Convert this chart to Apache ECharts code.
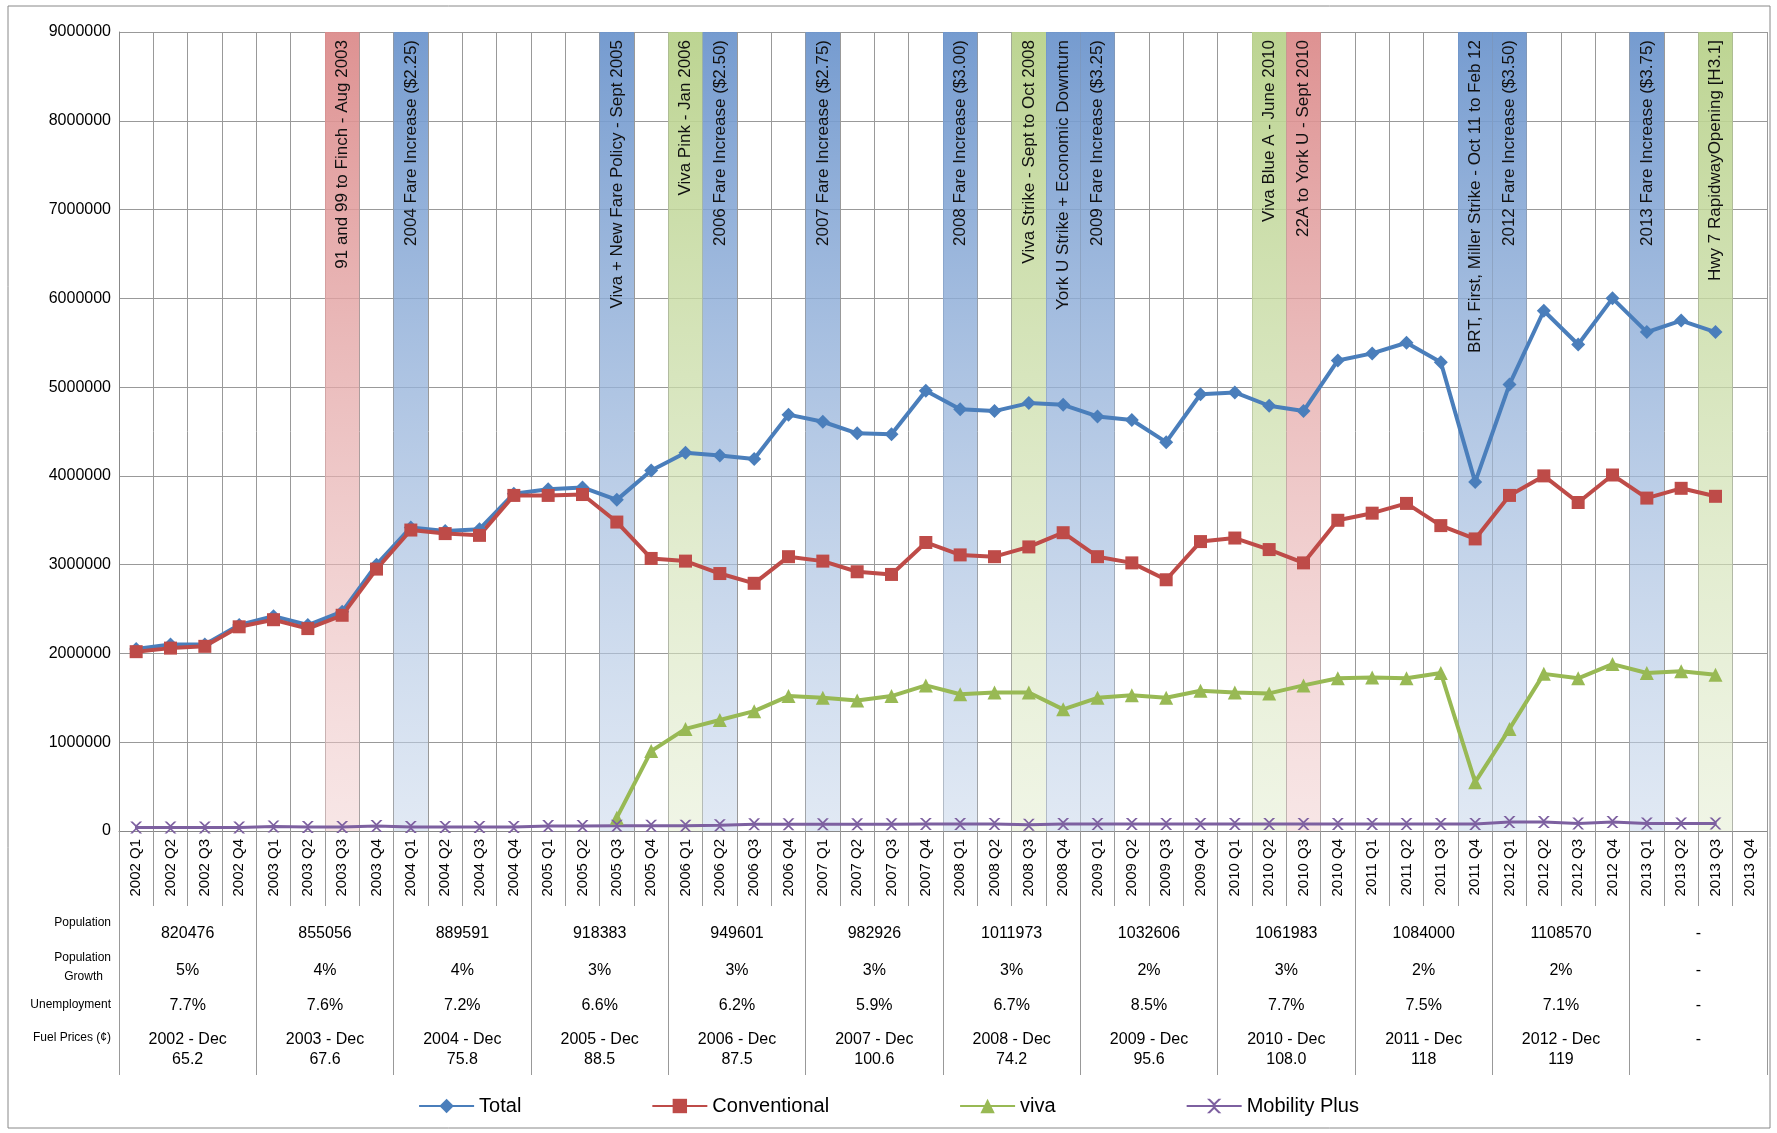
<!DOCTYPE html>
<html><head><meta charset="utf-8">
<script src="https://cdn.jsdelivr.net/npm/echarts@6/dist/echarts.min.js"></script>
<style>html,body{margin:0;padding:0;background:#fff}#c{width:1777px;height:1133px}</style>
</head><body><div id="c"></div>
<script>
const years = ['2002','2003','2004','2005','2006','2007','2008','2009','2010','2011','2012','2013'];
const quarters = [];
years.forEach(y => ['Q1','Q2','Q3','Q4'].forEach(q => quarters.push(y + ' ' + q)));

const total = [2050000,2100000,2100000,2320000,2420000,2320000,2470000,3000000,3420000,3380000,3400000,3800000,
3850000,3870000,3730000,4060000,4260000,4230000,4190000,4690000,4610000,4480000,4470000,4960000,
4750000,4730000,4820000,4800000,4670000,4630000,4380000,4920000,4940000,4790000,4730000,5300000,
5380000,5500000,5280000,3930000,5030000,5860000,5480000,6000000,5620000,5750000,5620000];
const conventional = [2020000,2060000,2080000,2300000,2380000,2280000,2430000,2950000,3390000,3350000,3330000,3780000,
3780000,3790000,3480000,3070000,3040000,2900000,2790000,3090000,3040000,2920000,2890000,3250000,
3110000,3090000,3200000,3360000,3090000,3020000,2830000,3260000,3300000,3170000,3020000,3500000,
3580000,3690000,3440000,3290000,3780000,4000000,3700000,4010000,3750000,3860000,3770000];
const viva = ['-','-','-','-','-','-','-','-','-','-','-','-','-','-',150000,900000,
1150000,1250000,1350000,1520000,1500000,1470000,1520000,1640000,1540000,1560000,1560000,1370000,
1500000,1530000,1500000,1580000,1560000,1550000,1640000,1720000,1730000,1720000,1780000,550000,
1150000,1770000,1720000,1880000,1780000,1800000,1760000];
const mobility = [40000,40000,40000,40000,50000,45000,45000,55000,45000,45000,45000,45000,
55000,55000,60000,60000,60000,65000,75000,75000,75000,75000,75000,80000,
80000,80000,70000,80000,80000,80000,80000,80000,80000,80000,80000,80000,
80000,80000,80000,80000,100000,100000,85000,100000,85000,85000,85000];

const bands = [
 ['2003 Q3','red','91 and 99 to Finch - Aug 2003'],
 ['2004 Q1','blue','2004 Fare Increase ($2.25)'],
 ['2005 Q3','blue','Viva + New Fare Policy - Sept 2005'],
 ['2006 Q1','green','Viva Pink - Jan 2006'],
 ['2006 Q2','blue','2006 Fare Increase ($2.50)'],
 ['2007 Q1','blue','2007 Fare Increase ($2.75)'],
 ['2008 Q1','blue','2008 Fare Increase ($3.00)'],
 ['2008 Q3','green','Viva Strike - Sept to Oct 2008'],
 ['2008 Q4','blue','York U Strike + Economic Downturn'],
 ['2009 Q1','blue','2009 Fare Increase ($3.25)'],
 ['2010 Q2','green','Viva Blue A - June 2010'],
 ['2010 Q3','red','22A to York U - Sept 2010'],
 ['2011 Q4','blue','BRT, First, Miller Strike - Oct 11 to Feb 12'],
 ['2012 Q1','blue','2012 Fare Increase ($3.50)'],
 ['2013 Q1','blue','2013 Fare Increase ($3.75)'],
 ['2013 Q3','green','Hwy 7 RapidwayOpening [H3.1]']
];

const population = ['820476','855056','889591','918383','949601','982926','1011973','1032606','1061983','1084000','1108570','-'];
const popGrowth = ['5%','4%','4%','3%','3%','3%','3%','2%','3%','2%','2%','-'];
const unemployment = ['7.7%','7.6%','7.2%','6.6%','6.2%','5.9%','6.7%','8.5%','7.7%','7.5%','7.1%','-'];
const fuelPeriod = ['2002 - Dec','2003 - Dec','2004 - Dec','2005 - Dec','2006 - Dec','2007 - Dec','2008 - Dec','2009 - Dec','2010 - Dec','2011 - Dec','2012 - Dec','-'];
const fuelPrice = ['65.2','67.6','75.8','88.5','87.5','100.6','74.2','95.6','108.0','118','119',''];

const bandColors = {
  blue: ['rgba(110,150,205,0.95)','rgba(200,215,235,0.55)'],
  red: ['rgba(220,140,140,0.95)','rgba(240,205,205,0.5)'],
  green: ['rgba(185,210,140,0.95)','rgba(225,235,205,0.5)']
};
const bandData = quarters.map(q => {
  const b = bands.find(x => x[0] === q);
  if (!b) return '-';
  const c = bandColors[b[1]];
  return { value: 9000000, text: b[2], itemStyle: { color: new echarts.graphic.LinearGradient(0,0,0,1,[{offset:0,color:c[0]},{offset:1,color:c[1]}]) } };
});

const xSymbol = 'path://M0,0 L2,0 L5,3 L8,0 L10,0 L6,4 L6,6 L10,10 L8,10 L5,7 L2,10 L0,10 L4,6 L4,4 Z';
const font = 'Liberation Sans, Arial, sans-serif';
const rowAxis = (data, offset, extra) => Object.assign({
  type: 'category', data: data, position: 'bottom', offset: offset, gridIndex: 0,
  axisLine: { show: false }, axisTick: { show: false },
  axisLabel: { color: '#000', fontSize: 16, fontFamily: font, interval: 0, lineHeight: 20 }
}, extra || {});

const chart = echarts.init(document.getElementById('c'));
chart.setOption({
  animation: false,
  backgroundColor: '#fff',
  textStyle: { fontFamily: font },
  grid: { left: 119, right: 10, top: 32, bottom: 302 },
  xAxis: [
    { type: 'category', data: quarters, boundaryGap: true,
      axisLine: { lineStyle: { color: '#888' } },
      axisTick: { show: true, length: 75, lineStyle: { color: '#999' } },
      splitLine: { show: true, lineStyle: { color: '#999' } },
      axisLabel: { rotate: 90, interval: 0, color: '#000', fontSize: 15, margin: 8 } },
    rowAxis(years, 0, { axisLabel: { show: false }, axisTick: { show: true, length: 244, interval: 0, lineStyle: { color: '#999' } } }),
    rowAxis(population, 85),
    rowAxis(popGrowth, 122),
    rowAxis(unemployment, 157),
    rowAxis(fuelPeriod.map((p, i) => p + (fuelPrice[i] ? '\n' + fuelPrice[i] : '')), 191)
  ],
  yAxis: { type: 'value', min: 0, max: 9000000, interval: 1000000,
    axisLine: { show: true, lineStyle: { color: '#888' } },
    axisLabel: { color: '#000', fontSize: 16, formatter: v => String(v) },
    splitLine: { lineStyle: { color: '#999' } } },
  legend: { bottom: 12, left: 'center', itemGap: 130, itemWidth: 55, itemHeight: 18,
    textStyle: { fontSize: 20, color: '#000' },
    data: ['Total','Conventional','viva','Mobility Plus'] },
  graphic: [
    { type: 'rect', shape: { x: 8, y: 6, width: 1762, height: 1122 }, style: { fill: 'none', stroke: '#888', lineWidth: 1 }, silent: true },
    { type: 'text', right: 1777 - 111, top: 917, style: { text: 'Population', fontSize: 12, fill: '#000', align: 'right' } },
    { type: 'text', right: 1777 - 111, top: 948, style: { text: 'Population\n   Growth', fontSize: 12, fill: '#000', lineHeight: 19 } },
    { type: 'text', right: 1777 - 111, top: 999, style: { text: 'Unemployment', fontSize: 12, fill: '#000' } },
    { type: 'text', right: 1777 - 111, top: 1032, style: { text: 'Fuel Prices (¢)', fontSize: 12, fill: '#000' } }
  ],
  series: [
    { type: 'bar', name: 'bands', data: bandData, barWidth: '100%', z: 1, silent: true,
      label: { show: true, position: 'insideTop', rotate: 90, align: 'right', verticalAlign: 'middle', distance: 8,
        formatter: p => p.data.text, fontSize: 17, color: '#111' }, legendHoverLink: false },
    { type: 'line', name: 'Total', data: total, color: '#4A7EBB', symbol: 'diamond', symbolSize: 14, z: 5,
      lineStyle: { width: 4 } },
    { type: 'line', name: 'Conventional', data: conventional, color: '#BE4B48', symbol: 'rect', symbolSize: 13, z: 5,
      lineStyle: { width: 4 } },
    { type: 'line', name: 'viva', data: viva, color: '#98B954', symbol: 'triangle', symbolSize: 14, z: 5,
      lineStyle: { width: 4 } },
    { type: 'line', name: 'Mobility Plus', data: mobility, color: '#7D60A0', symbol: xSymbol, symbolSize: 12, z: 5,
      lineStyle: { width: 3 } }
  ]
});
</script></body></html>
